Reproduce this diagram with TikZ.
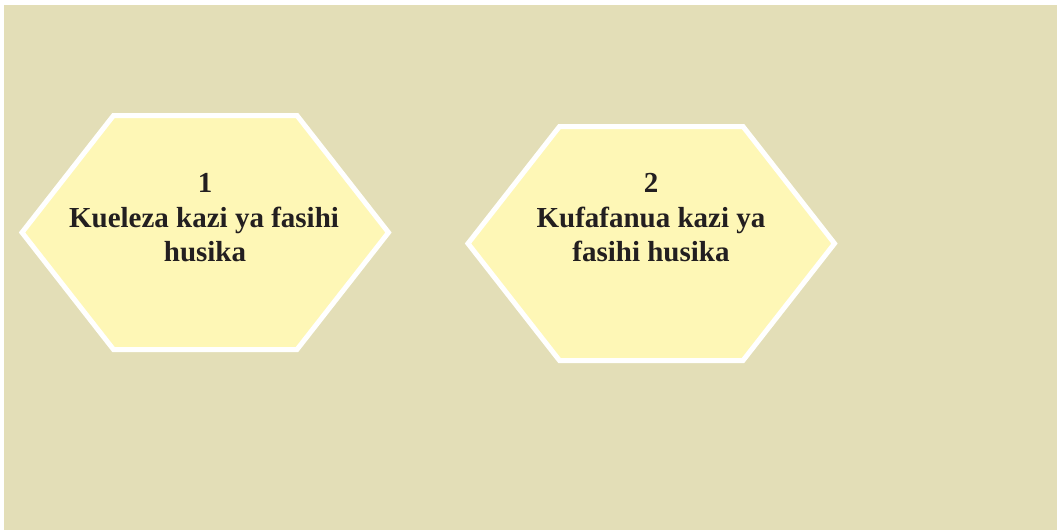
\documentclass[tikz,border=0pt]{standalone}
\usepackage{fontspec}
\setmainfont{Liberation Serif}
\definecolor{bgbeige}{HTML}{E3DEB7}
\definecolor{hexfill}{HTML}{FEF7B6}
\definecolor{txtdark}{HTML}{231F20}
\tikzset{
  hexshape/.style={fill=hexfill, draw=white, line width=5pt, line join=miter},
  lbl/.style={anchor=base, inner sep=0pt, text=txtdark, font=\fontsize{29}{33}\selectfont\bfseries}
}
\begin{document}
\begin{tikzpicture}[x=1pt,y=-1pt]
\useasboundingbox (0,0) rectangle (1057,530);
\fill[white] (0,0) rectangle (1057,530);
\fill[bgbeige] (4,5) rectangle (1057,530);
% hexagon 1
\draw[hexshape] (22,232.5) -- (113.5,115.5) -- (297,115.5) -- (388.5,232.5) -- (297,349.5) -- (113.5,349.5) -- cycle;
\node[lbl] (h1n) at (205,192.3) {1};
\node[lbl] (h1a) at (204,227.7) {Kueleza kazi ya fasihi};
\node[lbl] (h1b) at (205,261) {husika};
% hexagon 2
\draw[hexshape] (468,243.5) -- (559.5,126.5) -- (743,126.5) -- (834.5,243.5) -- (743,360.5) -- (559.5,360.5) -- cycle;
\node[lbl] (h2n) at (651,192.3) {2};
\node[lbl] (h2a) at (651,227.5) {Kufafanua kazi ya};
\node[lbl] (h2b) at (651,261.5) {fasihi husika};
\end{tikzpicture}
\end{document}
